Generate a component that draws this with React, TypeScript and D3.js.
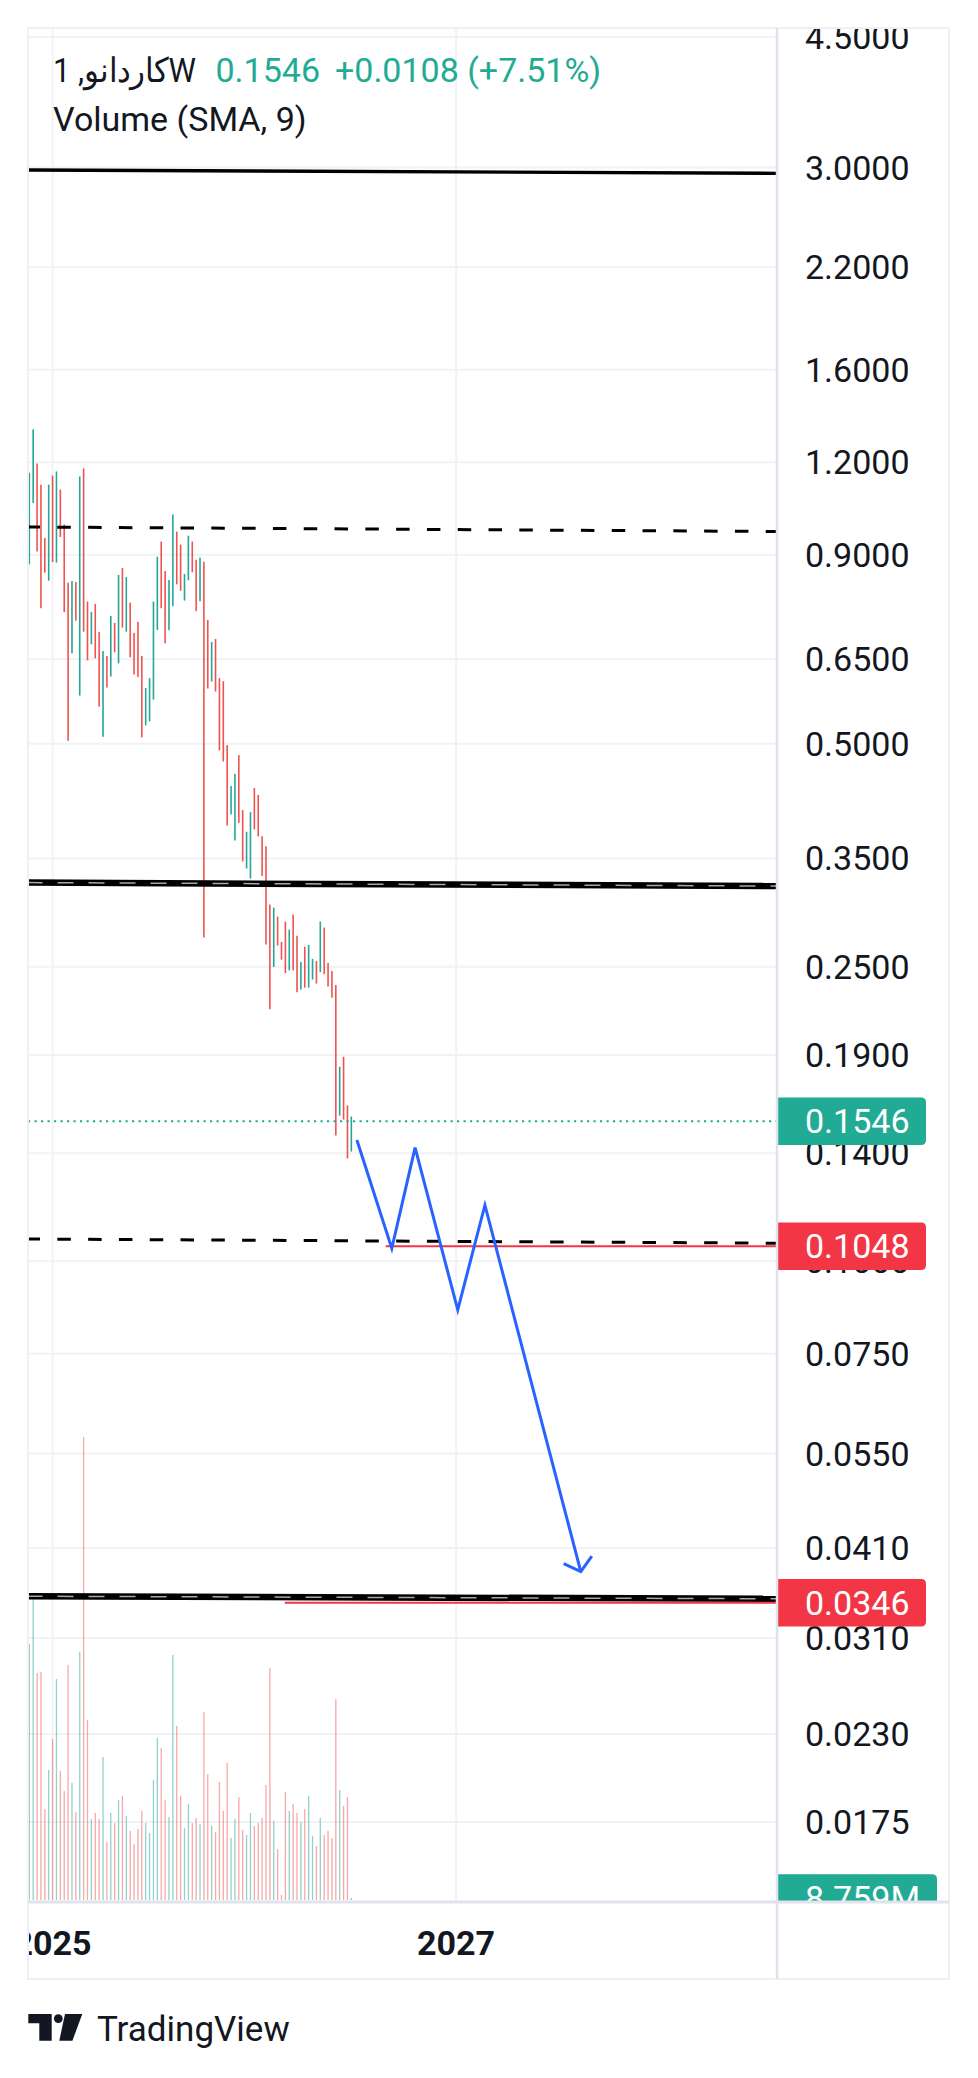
import * as d3 from "d3";

const W = 978;
const H = 2078;

// weekly candles, first bar opens on this Monday
const firstWeek = "2024-11-25";

const candleHigh = [
  1.161, 1.329, 1.195, 1.119, 0.9481, 1.119, 1.151, 1.166, 1.102, 0.9885,
  0.825, 0.8294, 0.8268, 1.148, 1.177, 0.7779, 0.7534, 0.7724, 0.7079, 0.6672,
  0.6569, 0.744, 0.728, 0.845, 0.8633, 0.8398, 0.7755, 0.7057, 0.7303, 0.6569,
  0.5944, 0.6131, 0.7779, 0.8943, 0.9376, 0.8556, 0.832, 1.02, 0.9668, 0.9289,
  0.8477, 0.9549, 0.9376, 0.8861, 0.8916, 0.8806, 0.7348, 0.6861, 0.6926, 0.6131,
  0.6073, 0.4979, 0.4385, 0.4553, 0.4826, 0.4068, 0.3803, 0.4042, 0.4358, 0.4264,
  0.3751, 0.3635, 0.3032, 0.3004, 0.2921, 0.27, 0.2876, 0.2805, 0.294, 0.2752,
  0.2537, 0.2659, 0.2675, 0.2561, 0.2545, 0.2876, 0.2823, 0.2529, 0.2467, 0.2362,
  0.1831, 0.1889, 0.1624, 0.1569,
];

const candleLow = [
  0.8736, 1.057, 0.9092, 0.7621, 0.851, 0.8302, 0.8797, 0.8781, 0.951, 0.7527,
  0.5046, 0.6623, 0.7332, 0.5808, 0.7085, 0.648, 0.6812, 0.6521, 0.5612, 0.5109,
  0.5955, 0.6162, 0.6645, 0.642, 0.7174, 0.7085, 0.6541, 0.6202, 0.6152, 0.51,
  0.5294, 0.5361, 0.5735, 0.7122, 0.7621, 0.6833, 0.7116, 0.7669, 0.8208, 0.8046,
  0.7803, 0.8312, 0.8522, 0.755, 0.7788, 0.2737, 0.5937, 0.6067, 0.5881, 0.4897,
  0.4732, 0.3878, 0.4014, 0.3701, 0.391, 0.3467, 0.3392, 0.3288, 0.3831, 0.3748,
  0.3315, 0.2678, 0.219, 0.2497, 0.267, 0.2555, 0.245, 0.2471, 0.2471, 0.2309,
  0.2328, 0.2342, 0.2342, 0.2402, 0.2372, 0.2458, 0.2442, 0.235, 0.227, 0.1479,
  0.1573, 0.1554, 0.1377, 0.1407,
];

// u = closed up, d = closed down
const candleDir = (
  "uudddududd" + "dududduddu" + "dudududddd" + "uuuudduudd" + "uudduddudd" +
  "dduudduudd" + "dddudddudd" + "uduududddd" + "uddu"
).split("");

// weekly volume, millions
const volumeM = [
  1126, 1327, 999, 1003, 400, 572, 708, 972, 568, 480,
  1034, 515, 387, 1091, 2037, 792, 356, 383, 356, 629,
  255, 383, 339, 440, 458, 370, 304, 246, 312, 392,
  339, 295, 528, 713, 669, 440, 365, 1078, 766, 458,
  317, 422, 339, 361, 334, 827, 554, 326, 299, 519,
  392, 603, 273, 356, 453, 308, 286, 383, 326, 339,
  361, 506, 1021, 348, 224, 22, 475, 392, 422, 383,
  343, 400, 458, 282, 238, 361, 286, 304, 273, 884,
  484, 414, 453, 8.759,
];

const priceTicks = [
  4.5, 3, 2.2, 1.6, 1.2, 0.9, 0.65, 0.5, 0.35, 0.25, 0.19, 0.14, 0.1, 0.075,
  0.055, 0.041, 0.031, 0.023, 0.0175,
];

const yearTicks: [string, string][] = [
  ["2025", "2025-01-06"],
  ["2027", "2027-01-04"],
];

const symbolTitle = "کاردانو, 1W";
const lastPrice = 0.1546;
const changeText = "+0.0108 (+7.51%)";
const indicatorTitle = "Volume (SMA, 9)";

// drawn levels: [start date, start price, end date, end price]
type Level = [string, number, string, number];
const solidLevel: Level = ["2024-11-20", 2.977, "2028-08-10", 2.946];
const dashedLevels: Level[] = [
  ["2024-11-20", 0.981, "2028-08-10", 0.9673],
  ["2024-11-20", 0.1072, "2028-08-10", 0.1058],
];
const doubleLevels: Level[] = [
  ["2024-11-20", 0.3247, "2028-08-10", 0.3212],
  ["2024-11-20", 0.0353, "2028-08-10", 0.03502],
];
const targetLevels: Level[] = [
  ["2026-08-30", 0.1048, "2028-08-10", 0.1048],
  ["2026-03-01", 0.0346, "2028-08-10", 0.0346],
];

// projected path
const pathDates = ["2026-07-09", "2026-09-10", "2026-10-22", "2027-01-07", "2027-02-25", "2027-08-17"];
const pathPrices = [0.1458, 0.1041, 0.1424, 0.086, 0.1191, 0.0381];

const UP = "#26a69a";
const DOWN = "#ef5350";
const TEXT = "#131722";
const FONT = "Roboto, sans-serif";

const plot = { left: 28, right: 777, top: 28, bottom: 1902 };
const outer = { right: 949, bottom: 1979 };

const parse = d3.utcParse("%Y-%m-%d");

const x = d3
  .scaleUtc()
  .domain([parse("2024-11-25")!, parse("2027-01-04")!])
  .range([29.3, 456.1]);

const y = d3.scaleLog().domain([3, 0.0175]).range([167.5, 1821.9]);

const vol = d3.scaleLinear().domain([0, 2037]).range([1900, 1437]);

const fmtPrice = d3.format(".4f");

function boxPath(x0: number, yc: number, w: number, h: number, r: number) {
  const y0 = yc - h / 2;
  const x1 = x0 + w;
  const y1 = y0 + h;
  return `M${x0},${y0}H${x1 - r}Q${x1},${y0} ${x1},${y0 + r}V${y1 - r}Q${x1},${y1} ${x1 - r},${y1}H${x0}Z`;
}

function levelCoords(l: Level) {
  return {
    x1: x(parse(l[0])!),
    y1: y(l[1]),
    x2: x(parse(l[2])!),
    y2: y(l[3]),
  };
}

export default function App() {
  const start = parse(firstWeek)!;
  const weeks = candleHigh.map((_, i) => d3.utcDay.offset(start, 7 * i));

  const proj = pathDates.map((d, i) => [x(parse(d)!), y(pathPrices[i])] as [number, number]);
  const projLine = d3.line()(proj) ?? "";
  const [tx, ty] = proj[proj.length - 1];
  const [px, py] = proj[proj.length - 2];
  const ang = Math.atan2(ty - py, tx - px) + Math.PI;
  const arm = 19;
  const spread = (50 * Math.PI) / 180;
  const arrow = `M${tx + arm * Math.cos(ang - spread)},${ty + arm * Math.sin(ang - spread)}L${tx},${ty}L${
    tx + arm * Math.cos(ang + spread)
  },${ty + arm * Math.sin(ang + spread)}`;

  const lastVol = volumeM[volumeM.length - 1];

  return (
    <div style={{ position: "absolute", left: 0, top: 0 }}>
      <svg width={W} height={H} style={{ display: "block", background: "#fff" }} fontFamily={FONT}>
        <defs>
          <clipPath id="pane">
            <rect x={plot.left} y={plot.top} width={plot.right - plot.left} height={plot.bottom - plot.top} />
          </clipPath>
          <clipPath id="axis">
            <rect x={plot.right} y={plot.top} width={outer.right - plot.right} height={plot.bottom - plot.top} />
          </clipPath>
          <clipPath id="timeaxis">
            <rect x={plot.left} y={plot.bottom} width={plot.right - plot.left} height={outer.bottom - plot.bottom} />
          </clipPath>
        </defs>

        {/* grid */}
        <g stroke="#f0f2f5" strokeWidth={2}>
          {priceTicks.map((t) => (
            <line key={t} x1={plot.left} x2={plot.right} y1={y(t)} y2={y(t)} />
          ))}
          {yearTicks.map(([lab, d]) => (
            <line key={lab} x1={x(parse(d)!)} x2={x(parse(d)!)} y1={plot.top} y2={plot.bottom} />
          ))}
        </g>

        <g clipPath="url(#pane)">
          {/* volume */}
          {volumeM.map((v, i) => (
            <rect
              key={"v" + i}
              x={x(weeks[i]) - 0.65}
              width={1.3}
              y={vol(v)}
              height={vol(0) - vol(v)}
              fill={candleDir[i] === "u" ? UP : DOWN}
              fillOpacity={0.5}
            />
          ))}

          {/* candles */}
          {candleHigh.map((hi, i) => (
            <rect
              key={"c" + i}
              x={x(weeks[i]) - 0.8}
              width={1.6}
              y={y(hi)}
              height={y(candleLow[i]) - y(hi)}
              fill={candleDir[i] === "u" ? UP : DOWN}
            />
          ))}

          {/* levels */}
          <line {...levelCoords(solidLevel)} stroke="#000" strokeWidth={3.3} />
          {dashedLevels.map((l, i) => (
            <line key={"d" + i} {...levelCoords(l)} stroke="#000" strokeWidth={3} strokeDasharray="13.5 17.3" />
          ))}
          {doubleLevels.map((l, i) => (
            <g key={"b" + i}>
              <line {...levelCoords(l)} stroke="#000" strokeWidth={6.5} />
              <line {...levelCoords(l)} stroke="#a8a8a8" strokeWidth={1.5} strokeDasharray="16 15" />
            </g>
          ))}
          {targetLevels.map((l, i) => (
            <line key={"t" + i} {...levelCoords(l)} stroke="#f23645" strokeWidth={2} />
          ))}

          {/* last price */}
          <line
            x1={plot.left}
            x2={plot.right}
            y1={y(lastPrice)}
            y2={y(lastPrice)}
            stroke="#22ab94"
            strokeWidth={2}
            strokeDasharray="2.2 4.3"
          />

          {/* projection */}
          <path d={projLine} fill="none" stroke="#2962ff" strokeWidth={3} />
          <path d={arrow} fill="none" stroke="#2962ff" strokeWidth={3} />
        </g>

        {/* legend */}
        <g fontSize={34}>
          <text x={53} y={81.5} fill={TEXT} textLength={143} lengthAdjust="spacingAndGlyphs">
            {symbolTitle}
          </text>
          <text x={215.5} y={81.5} fill="#22ab94">
            {fmtPrice(lastPrice)}
          </text>
          <text x={335} y={81.5} fill="#22ab94">
            {changeText}
          </text>
          <text x={53} y={130.5} fill={TEXT}>
            {indicatorTitle}
          </text>
        </g>

        {/* price axis */}
        <g clipPath="url(#axis)" fontSize={34}>
          {priceTicks.map((t) => (
            <text key={t} x={805} y={y(t) + 12} fill={TEXT}>
              {fmtPrice(t)}
            </text>
          ))}
          {[
            { v: lastPrice, c: "#22ab94" },
            { v: targetLevels[0][1], c: "#f23645" },
            { v: targetLevels[1][1], c: "#f23645" },
          ].map((b) => (
            <g key={b.v}>
              <path d={boxPath(776, y(b.v), 150, 47.5, 5)} fill={b.c} />
              <text x={805} y={y(b.v) + 12} fill="#fff">
                {fmtPrice(b.v)}
              </text>
            </g>
          ))}
          <path d={boxPath(776, vol(lastVol), 161, 47.5, 5)} fill="#22ab94" />
          <text x={805} y={vol(lastVol) + 12} fill="#fff">
            {d3.format(".3f")(lastVol) + "M"}
          </text>
        </g>

        {/* time axis */}
        <g clipPath="url(#timeaxis)" fontSize={34} fontWeight={700} fill={TEXT} textAnchor="middle">
          {yearTicks.map(([lab, d]) => (
            <text key={lab} x={x(parse(d)!)} y={1955}>
              {lab}
            </text>
          ))}
        </g>

        {/* frame */}
        <rect
          x={plot.left}
          y={plot.top}
          width={outer.right - plot.left}
          height={outer.bottom - plot.top}
          fill="none"
          stroke="#eef0f3"
          strokeWidth={2}
        />
        <line x1={plot.right} x2={plot.right} y1={plot.top} y2={outer.bottom} stroke="#e0e3eb" strokeWidth={2.5} />
        <line x1={plot.left} x2={outer.right} y1={plot.bottom} y2={plot.bottom} stroke="#e0e3eb" strokeWidth={3} />

        {/* logo */}
        <g fill={TEXT}>
          <path d="M28.3,2014H51.7V2040.7H39.3V2023.3H28.3Z" />
          <circle cx={58.3} cy={2018.6} r={4.4} />
          <path d="M65,2014H82.3L72.4,2040.7H59.3Z" />
          <text x={97} y={2040.7} fontSize={35}>
            TradingView
          </text>
        </g>
      </svg>
    </div>
  );
}
